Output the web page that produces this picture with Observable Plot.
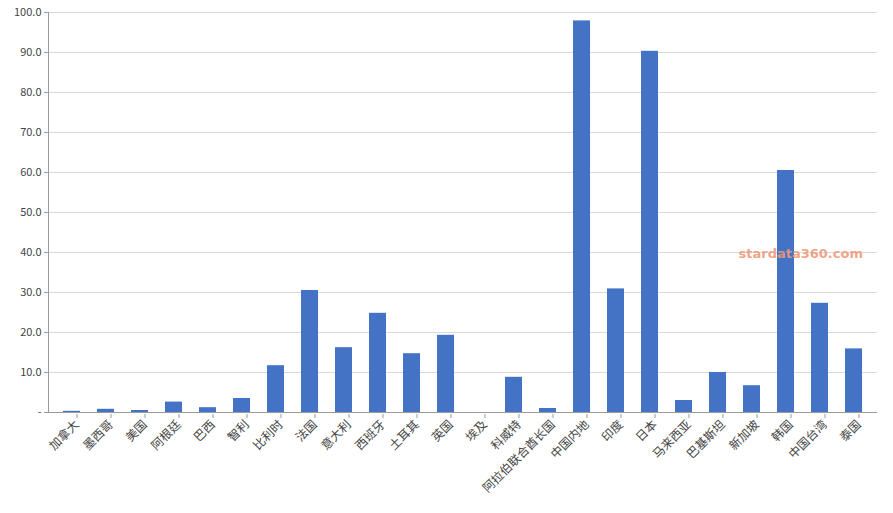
<!DOCTYPE html>
<html>
<head>
<meta charset="utf-8">
<script src="https://cdn.jsdelivr.net/npm/d3@7"></script>
<script src="https://cdn.jsdelivr.net/npm/@observablehq/plot@0.6"></script>
<style>
  html, body { margin: 0; padding: 0; background: #fff; }
  #chart svg { display: block; font-family: "Noto Sans CJK SC", "Noto Sans", sans-serif; }
</style>
</head>
<body>
<div id="chart"></div>
<script>
const categories = ["加拿大","墨西哥","美国","阿根廷","巴西","智利","比利时","法国","意大利","西班牙","土耳其","英国","埃及","科威特","阿拉伯联合酋长国","中国内地","印度","日本","马来西亚","巴基斯坦","新加坡","韩国","中国台湾","泰国"];
const values = [0.3, 0.8, 0.5, 2.6, 1.2, 3.5, 11.7, 30.5, 16.2, 24.8, 14.7, 19.3, 0, 8.8, 1.0, 97.9, 30.9, 90.3, 3.0, 10.0, 6.7, 60.5, 27.3, 15.9];
const yTicks = [0, 10, 20, 30, 40, 50, 60, 70, 80, 90, 100];
const watermark = "stardata360.com";

const data = categories.map((c, i) => ({category: c, value: values[i]}));

const chart = Plot.plot({
  width: 893,
  height: 513,
  marginLeft: 48,
  marginRight: 16,
  marginTop: 12,
  marginBottom: 101,
  style: {fontSize: "11px", color: "#444", background: "#fff"},
  x: {domain: categories, paddingInner: 0.5, paddingOuter: 0.25, label: null},
  y: {domain: [0, 100], label: null},
  marks: [
    Plot.gridY(yTicks, {stroke: "#d9d9d9", strokeOpacity: 1}),
    Plot.axisY(yTicks, {
      tickFormat: d => d === 0 ? "-" : d.toFixed(1),
      tickSize: 4, stroke: "#999", fill: "#444", fontSize: 11, tickPadding: 3
    }),
    Plot.barY(data, {x: "category", y: "value", fill: "#4472C4"}),
    Plot.ruleY([0], {stroke: "#999"}),
    Plot.frame({anchor: "left", stroke: "#999"}),
    Plot.axisX({
      tickSize: 4, stroke: "#999", tickRotate: -45, fontSize: 12, fill: "#444",
      textAnchor: "end", tickPadding: 4, dx: 5, dy: 2
    }),
    Plot.text([watermark], {
      frameAnchor: "top-left", dx: 690, dy: 236, text: d => d,
      fill: "#ee9977", fontSize: 13, fontWeight: "bold", textAnchor: "start",
      fontFamily: "Verdana, DejaVu Sans, sans-serif", fillOpacity: 0.9
    })
  ]
});
document.getElementById("chart").appendChild(chart);
</script>
</body>
</html>
